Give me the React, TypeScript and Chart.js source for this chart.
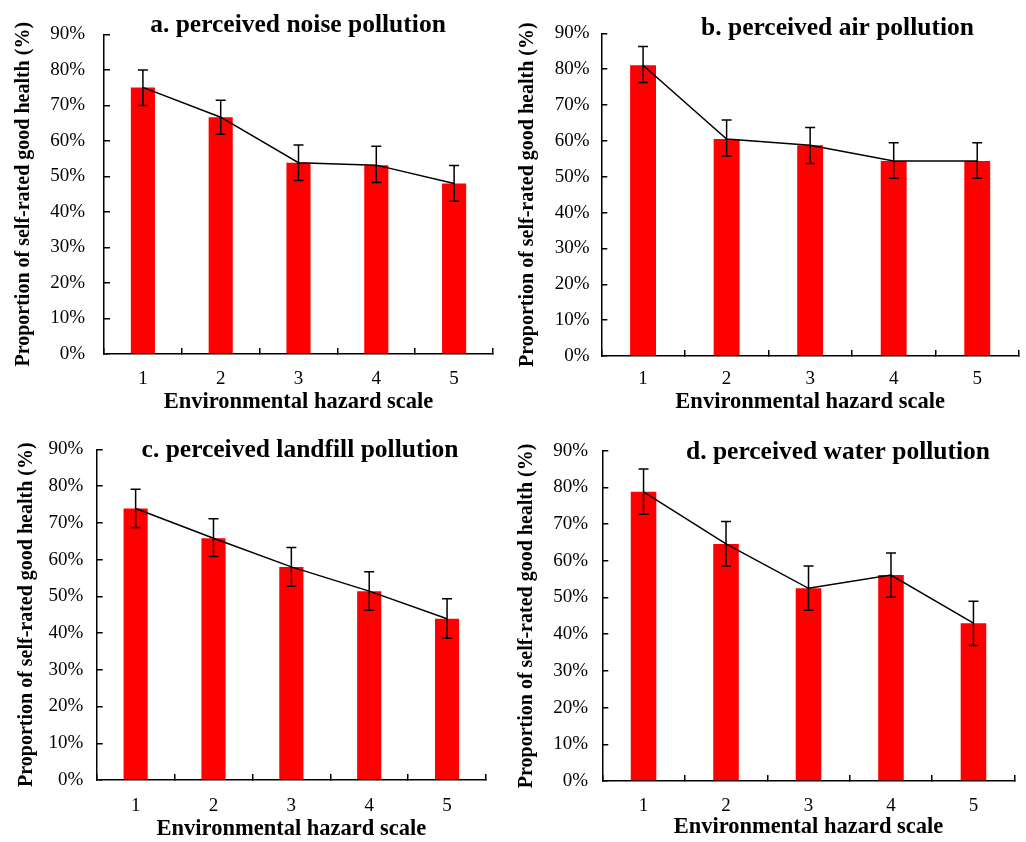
import React, { useEffect, useRef } from "react";
import { Chart, registerables } from "chart.js";

Chart.register(...registerables);

// ---------- data ----------
const categories = ["1", "2", "3", "4", "5"];
const yMin = 0;
const yMax = 90;
const yStep = 10;

const noiseValues = [75.1, 66.7, 53.9, 53.2, 48.0];
const noiseUpper = [80.0, 71.5, 58.9, 58.5, 53.1];
const noiseLower = [70.0, 61.9, 48.9, 48.3, 43.0];

const airValues = [81.1, 60.5, 58.8, 54.4, 54.4];
const airUpper = [86.3, 65.8, 63.7, 59.5, 59.5];
const airLower = [76.3, 55.8, 53.7, 49.6, 49.6];

const landfillValues = [73.9, 65.8, 58.0, 51.4, 43.9];
const landfillUpper = [79.1, 71.1, 63.3, 56.7, 49.3];
const landfillLower = [68.7, 60.8, 52.7, 46.2, 38.6];

const waterValues = [78.8, 64.6, 52.5, 56.1, 43.0];
const waterUpper = [85.0, 70.7, 58.6, 62.1, 49.0];
const waterLower = [72.7, 58.6, 46.5, 50.1, 36.9];

const panelTitles = [
  "a. perceived noise pollution",
  "b. perceived air pollution",
  "c. perceived landfill pollution",
  "d. perceived water pollution",
];
const yAxisTitle = "Proportion of self-rated good health (%)";
const xAxisTitle = "Environmental hazard scale";

// ---------- layout ----------
const FONT = "'Liberation Serif', 'Times New Roman', Times, serif";
const TICK_LEN = 6;

type Layout = {
  left: number; top: number; width: number; height: number;
  L: number; T: number; R: number; B: number;
  titleX: number; titleY: number;
  yTitleX: number; yLabelGap: number;
  xLabelCenter: number; xTitleCenter: number;
};

const layouts: Layout[] = [
  { left: 0, top: 0, width: 513, height: 420, L: 104, T: 28, R: 493, B: 354,
    titleX: 298, titleY: 32, yTitleX: 24, yLabelGap: 19, xLabelCenter: 379, xTitleCenter: 402 },
  { left: 513, top: 0, width: 513, height: 420, L: 601.3, T: 33.3, R: 1019, B: 356,
    titleX: 837.5, titleY: 35, yTitleX: 528, yLabelGap: 11.6, xLabelCenter: 379, xTitleCenter: 402 },
  { left: 0, top: 420, width: 513, height: 422, L: 96.7, T: 449.3, R: 486, B: 780,
    titleX: 300, titleY: 456.5, yTitleX: 26.7, yLabelGap: 13.4, xLabelCenter: 806, xTitleCenter: 829.5 },
  { left: 513, top: 420, width: 513, height: 422, L: 602.3, T: 450.7, R: 1014.7, B: 781,
    titleX: 838, titleY: 459.3, yTitleX: 527, yLabelGap: 14.3, xLabelCenter: 806.3, xTitleCenter: 827 },
];

type Panel = { title: string; values: number[]; upper: number[]; lower: number[]; layout: Layout };

const panels: Panel[] = [
  { title: panelTitles[0], values: noiseValues, upper: noiseUpper, lower: noiseLower, layout: layouts[0] },
  { title: panelTitles[1], values: airValues, upper: airUpper, lower: airLower, layout: layouts[1] },
  { title: panelTitles[2], values: landfillValues, upper: landfillUpper, lower: landfillLower, layout: layouts[2] },
  { title: panelTitles[3], values: waterValues, upper: waterUpper, lower: waterLower, layout: layouts[3] },
];

function PanelChart({ panel }: { panel: Panel }) {
  const ref = useRef<HTMLCanvasElement | null>(null);
  const lay = panel.layout;

  useEffect(() => {
    if (!ref.current) return;
    const canvasBottom = lay.top + lay.height;
    const canvasRight = lay.left + lay.width;

    const titlePlugin = {
      id: "panelTitle",
      afterDraw(chart: any) {
        const ctx = chart.ctx;
        ctx.save();
        ctx.font = `bold 25.5px ${FONT}`;
        ctx.fillStyle = "#000";
        ctx.textAlign = "center";
        ctx.textBaseline = "alphabetic";
        ctx.fillText(panel.title, lay.titleX - lay.left, lay.titleY - lay.top);
        ctx.restore();
      },
    };

    const errorPlugin = {
      id: "errorBars",
      afterDatasetsDraw(chart: any) {
        const ctx = chart.ctx;
        const yScale = chart.scales.y;
        const meta = chart.getDatasetMeta(0);
        ctx.save();
        ctx.strokeStyle = "#000";
        ctx.lineWidth = 1.5;
        meta.data.forEach((bar: any, i: number) => {
          const x = bar.x;
          const yHi = yScale.getPixelForValue(panel.upper[i]);
          const yLo = yScale.getPixelForValue(panel.lower[i]);
          const cap = 5;
          ctx.beginPath();
          ctx.moveTo(x, yHi);
          ctx.lineTo(x, yLo);
          ctx.moveTo(x - cap, yHi);
          ctx.lineTo(x + cap, yHi);
          ctx.moveTo(x - cap, yLo);
          ctx.lineTo(x + cap, yLo);
          ctx.stroke();
        });
        ctx.restore();
      },
    };

    const chart = new Chart(ref.current, {
      type: "bar",
      data: {
        labels: categories,
        datasets: [
          {
            type: "bar",
            data: panel.values,
            backgroundColor: "#ff0000",
            borderWidth: 0,
            barPercentage: 0.31,
            categoryPercentage: 1,
            order: 2,
          } as any,
          {
            type: "line",
            data: panel.values,
            borderColor: "#000",
            borderWidth: 1.5,
            pointRadius: 0,
            tension: 0,
            fill: false,
            order: 1,
          } as any,
        ],
      },
      options: {
        responsive: false,
        animation: false,
        devicePixelRatio: 1,
        events: [],
        layout: {
          padding: { left: 0, top: lay.T - lay.top, right: canvasRight - lay.R, bottom: 0 },
        },
        plugins: {
          legend: { display: false },
          tooltip: { enabled: false },
          title: { display: false },
        },
        scales: {
          x: {
            offset: true,
            grid: {
              offset: true,
              drawOnChartArea: false,
              drawTicks: true,
              tickLength: -TICK_LEN,
              color: "#000",
              lineWidth: 1.5,
            },
            border: { display: true, color: "#000", width: 1.5 },
            ticks: {
              color: "#000",
              font: { family: FONT, size: 19, lineHeight: 1 },
              padding: lay.xLabelCenter - lay.B - 9.5 + TICK_LEN,
              maxRotation: 0,
              autoSkip: false,
            },
            title: {
              display: true,
              text: xAxisTitle,
              color: "#000",
              font: { family: FONT, size: 22.5, weight: "bold", lineHeight: 1 },
              padding: { top: 0, bottom: canvasBottom - lay.xTitleCenter - 11.25 },
            },
            afterFit: (scale: any) => {
              scale.height = canvasBottom - lay.B;
            },
          },
          y: {
            min: yMin,
            max: yMax,
            grid: {
              drawOnChartArea: false,
              drawTicks: true,
              tickLength: -TICK_LEN,
              color: "#000",
              lineWidth: 1.5,
            },
            border: { display: true, color: "#000", width: 1.5 },
            ticks: {
              stepSize: yStep,
              color: "#000",
              font: { family: FONT, size: 19, lineHeight: 1 },
              padding: lay.yLabelGap + TICK_LEN,
              callback: (v: any) => `${v}%`,
            },
            title: {
              display: true,
              text: yAxisTitle,
              color: "#000",
              font: { family: FONT, size: 20, weight: "bold", lineHeight: 1 },
              padding: { top: lay.yTitleX - lay.left - 10, bottom: 0 },
            },
            afterFit: (scale: any) => {
              scale.width = lay.L - lay.left;
            },
          },
        },
      } as any,
      plugins: [errorPlugin, titlePlugin],
    });

    return () => chart.destroy();
  }, []);

  return (
    <canvas
      ref={ref}
      width={lay.width}
      height={lay.height}
      style={{ position: "absolute", left: lay.left, top: lay.top, width: lay.width, height: lay.height }}
    />
  );
}

export default function App() {
  return (
    <div style={{ position: "absolute", left: 0, top: 0, width: 1026, height: 842, background: "#fff" }}>
      {panels.map((p, i) => (
        <PanelChart key={i} panel={p} />
      ))}
    </div>
  );
}
